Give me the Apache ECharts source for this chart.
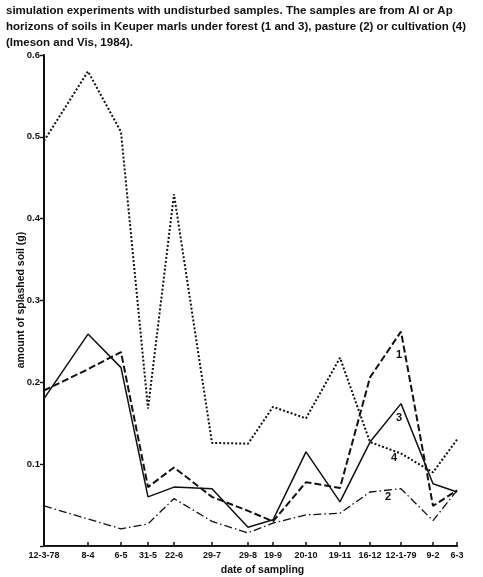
<!DOCTYPE html>
<html><head><meta charset="utf-8">
<script src="https://cdn.jsdelivr.net/npm/echarts@6/dist/echarts.min.js"></script>
<style>html,body{margin:0;padding:0;background:#fff}#c{width:483px;height:577px}</style>
</head><body><div id="c"></div>
<script>
// sampling dates and their position along the (irregularly spaced) date axis
const dateLabels = ['12-3-78','8-4','6-5','31-5','22-6','29-7','29-8','19-9','20-10','19-11','16-12','12-1-79','9-2','6-3'];
const datePos    = [0, 44, 77, 104, 130, 168, 204, 229, 262, 296, 326, 357, 389, 413];
// amount of splashed soil (g)
const forest1     = [0.19, 0.216, 0.237, 0.072, 0.096, 0.06, 0.043, 0.03, 0.078, 0.071, 0.206, 0.262, 0.049, 0.068];
const pasture2    = [0.049, 0.033, 0.021, 0.027, 0.058, 0.03, 0.016, 0.028, 0.038, 0.04, 0.066, 0.07, 0.031, 0.068];
const forest3     = [0.18, 0.259, 0.218, 0.06, 0.072, 0.07, 0.023, 0.032, 0.115, 0.054, 0.127, 0.174, 0.076, 0.066];
const cultivation4= [0.495, 0.58, 0.506, 0.168, 0.43, 0.126, 0.125, 0.17, 0.156, 0.23, 0.127, 0.113, 0.09, 0.13];
// curve number labels [x, y, text]
const curveLabels = [[355, 0.233, '1'], [355, 0.157, '3'], [350, 0.107, '4'], [344, 0.06, '2']];

const FONT = 'Liberation Sans';
const pair = arr => arr.map((v, i) => [datePos[i], v]);
const chart = echarts.init(document.getElementById('c'));
const baseLine = (name, data, type, width) => ({
  name, type: 'line', data: pair(data), symbol: 'none', silent: true,
  lineStyle: { color: '#111', width, type }
});
const s4 = baseLine('4', cultivation4, 'dotted', 2);
s4.markPoint = {
  symbol: 'circle', symbolSize: 0, silent: true,
  data: curveLabels.map(l => ({ coord: [l[0], l[1]], label: { show: true, formatter: l[2], color: '#111', fontSize: 11, fontWeight: 'bold', fontFamily: FONT } }))
};
chart.setOption({
  animation: false,
  title: {
    text: 'simulation experiments with undisturbed samples. The samples are from Al or Ap\nhorizons of soils in Keuper marls under forest (1 and 3), pasture (2) or cultivation (4)\n(Imeson and Vis, 1984).',
    left: 1, top: -2,
    textStyle: { fontFamily: FONT, fontSize: 11.5, fontWeight: 'bold', color: '#111', lineHeight: 16 }
  },
  grid: { left: 44, right: 26, top: 55, bottom: 31, containLabel: false, outerBoundsMode: 'none' },
  xAxis: [{
    type: 'value', min: 0, max: 413, position: 'bottom',
    name: 'date of sampling', nameLocation: 'middle', nameGap: 17,
    nameTextStyle: { fontFamily: FONT, fontSize: 10.5, fontWeight: 'bold', color: '#111', padding: [0, 0, 0, 24] },
    axisLine: { lineStyle: { color: '#111', width: 2 } },
    axisTick: { inside: true, length: 4, lineStyle: { color: '#111', width: 1.5 }, customValues: datePos },
    axisLabel: { customValues: datePos, formatter: v => dateLabels[datePos.indexOf(v)] || '', fontFamily: FONT, fontSize: 9, fontWeight: 'bold', color: '#111', margin: 5 },
    splitLine: { show: false }
  }, {
    type: 'value', min: 0, max: 413, position: 'top',
    axisLine: { show: true, lineStyle: { color: '#222', width: 1 } },
    axisTick: { show: false }, axisLabel: { show: false }, splitLine: { show: false }
  }],
  yAxis: [{
    type: 'value', min: 0, max: 0.6, interval: 0.1, position: 'left',
    axisLine: { show: true, lineStyle: { color: '#111', width: 2 } },
    axisTick: { show: true, length: 4, lineStyle: { color: '#111', width: 1.2 } },
    axisLabel: { formatter: v => v === 0 ? '' : v.toFixed(1), fontFamily: FONT, fontSize: 9.5, fontWeight: 'bold', color: '#111', margin: 4 },
    splitLine: { show: false }
  }, {
    type: 'value', min: 0, max: 0.6, interval: 0.1, position: 'right',
    axisLine: { show: true, lineStyle: { color: '#111', width: 1.5 } },
    axisTick: { show: true, inside: true, length: 4, lineStyle: { color: '#111', width: 1.2 } },
    axisLabel: { show: false }, splitLine: { show: false }
  }],
  graphic: [{
    type: 'text', x: 21, y: 300, rotation: Math.PI / 2, silent: true,
    style: { text: 'amount of splashed soil (g)', fill: '#111', font: 'bold 10.5px ' + FONT, textAlign: 'center', textVerticalAlign: 'middle' }
  }],
  series: [
    baseLine('1', forest1, [7, 3], 2),
    baseLine('2', pasture2, [8, 3, 1.5, 3], 1.3),
    baseLine('3', forest3, 'solid', 1.5),
    s4
  ]
});
</script></body></html>
